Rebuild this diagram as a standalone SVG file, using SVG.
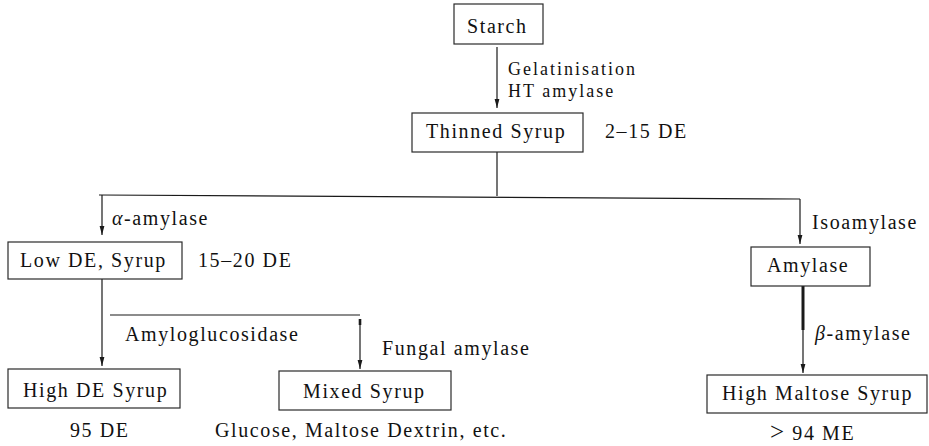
<svg xmlns="http://www.w3.org/2000/svg" width="929" height="446" viewBox="0 0 929 446">
<defs>
<style>
.box{fill:none;stroke:#2a2a2a;stroke-width:1.2}
.ln{fill:none;stroke:#1a1a1a;stroke-width:1.2}
.t{font-family:'Liberation Serif','DejaVu Serif',serif;font-size:20px;letter-spacing:1.6px;fill:#111}
.s{font-size:18px;letter-spacing:2px}
.i{font-style:italic}
</style>
<marker id="ah" markerUnits="userSpaceOnUse" markerWidth="9" markerHeight="6" refX="9" refY="3" orient="auto">
<path d="M0,0.6 L9,3 L0,5.4 z" fill="#1a1a1a"/>
</marker>
</defs>
<rect width="929" height="446" fill="#fff"/>
<g id="connectors">
<line class="ln" x1="497" y1="47" x2="497" y2="108" marker-end="url(#ah)"/>
<line class="ln" x1="497" y1="152" x2="497" y2="196"/>
<line class="ln" x1="99" y1="195" x2="800" y2="199"/>
<line class="ln" x1="102" y1="195" x2="102" y2="235" marker-end="url(#ah)"/>
<line class="ln" x1="800" y1="199" x2="800" y2="244" marker-end="url(#ah)"/>
<line class="ln" x1="102" y1="279" x2="102" y2="366" marker-end="url(#ah)"/>
<line class="ln" x1="110" y1="315" x2="360" y2="315"/>
<line x1="360" y1="319" x2="360" y2="325" stroke="#1a1a1a" stroke-width="2.6"/>
<line class="ln" x1="360" y1="325" x2="360" y2="369" marker-end="url(#ah)"/>
<line x1="803" y1="286" x2="803" y2="330" stroke="#1a1a1a" stroke-width="3"/>
<line class="ln" x1="803" y1="330" x2="803" y2="373" marker-end="url(#ah)"/>
<text class="t s" x="508" y="75">Gelatinisation</text>
<text class="t s" x="508" y="97">HT amylase</text>
<text class="t" x="112" y="225"><tspan class="i">α</tspan>-amylase</text>
<text class="t" x="812" y="229">Isoamylase</text>
<text class="t" x="125" y="341">Amyloglucosidase</text>
<text class="t" x="382" y="355">Fungal amylase</text>
<text class="t" x="815" y="340"><tspan class="i">β</tspan>-amylase</text>
</g>
<g id="starch">
<rect class="box" x="454" y="4" width="89" height="40"/>
<text class="t" x="467" y="33">Starch</text>
</g>
<g id="thinned">
<rect class="box" x="412" y="113" width="171" height="39"/>
<text class="t" x="426" y="138">Thinned Syrup</text>
<text class="t" x="605" y="138">2–15 DE</text>
</g>
<g id="lowde">
<rect class="box" x="8" y="242" width="174" height="37"/>
<text class="t" x="20" y="267">Low DE, Syrup</text>
<text class="t" x="198" y="267">15–20 DE</text>
</g>
<g id="highde">
<rect class="box" x="8" y="369" width="172" height="39"/>
<text class="t" x="23" y="397">High DE Syrup</text>
<text class="t" x="70" y="437">95 DE</text>
</g>
<g id="mixed">
<rect class="box" x="279" y="371" width="172" height="39"/>
<text class="t" x="303" y="398">Mixed Syrup</text>
<text class="t" x="215" y="437">Glucose, Maltose Dextrin, etc.</text>
</g>
<g id="amylase">
<rect class="box" x="751" y="247" width="119" height="39"/>
<text class="t" x="767" y="272">Amylase</text>
</g>
<g id="highmaltose">
<rect class="box" x="707" y="375" width="220" height="38"/>
<text class="t" x="722" y="400">High Maltose Syrup</text>
<text class="t" x="770" y="440"><tspan font-size="25">&gt;</tspan> 94 ME</text>
</g>
</svg>
